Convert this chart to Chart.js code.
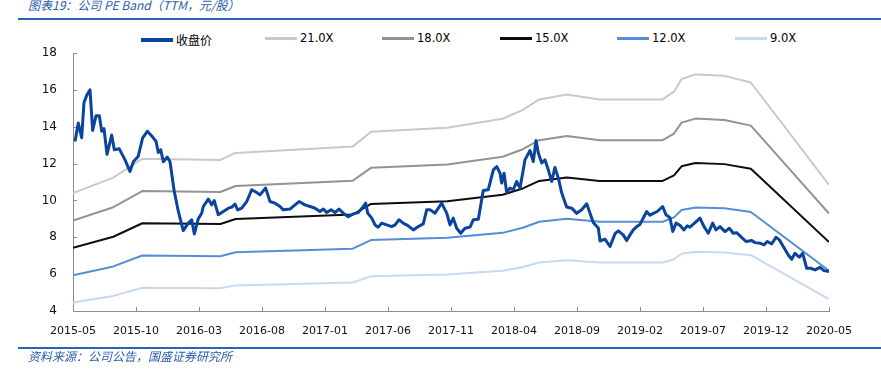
<!DOCTYPE html>
<html>
<head>
<meta charset="utf-8">
<script src="https://cdn.jsdelivr.net/npm/chart.js@4"></script>
<style>
    html, body { margin: 0; padding: 0; background: #fff; }
    #wrap { position: relative; width: 881px; height: 376px; overflow: hidden; }
    #peChart { position: absolute; left: 0; top: 0; }
    .title, .source {
        position: absolute; left: 28px; font-family: 'Noto Sans CJK SC', sans-serif;
        font-style: italic; font-size: 12px; color: #2a5caa; white-space: nowrap;
    }
    .title { top: -4px; }
    .source { top: 347px; }
    .rule { position: absolute; left: 18px; right: 0; height: 2px; background: #2a62b4; }
    .legend-item {
        position: absolute; top: 31px; display: flex; align-items: center;
        font-family: 'DejaVu Sans', sans-serif; font-size: 11.5px; color: #000; white-space: nowrap;
    }
    .legend-item .swatch { width: 32px; margin-right: 3px; }
    .legend-item .cjk { font-family: 'Noto Sans CJK SC', sans-serif; font-size: 12px; }
</style>
</head>
<body>
<div id="wrap">
    <div class="title">图表19：公司 PE Band（TTM，元/股）</div>
    <div class="rule" style="top:18px"></div>
    <div id="legend"></div>
    <canvas id="peChart" width="881" height="376"></canvas>
    <div class="rule" style="top:347px"></div>
    <div class="source">资料来源：公司公告，国盛证券研究所</div>
</div>
<script>
// 横轴刻度（每 5 个月一个）
const tickLabels = ['2015-05', '2015-10', '2016-03', '2016-08', '2017-01', '2017-06',
    '2017-11', '2018-04', '2018-09', '2019-02', '2019-07', '2019-12', '2020-05'];

// 收盘价：距 2015-05 的月数 / 价格
const closeMonths = [0.16, 0.42, 0.69, 0.87, 1.09, 1.35, 1.56, 1.83, 2.09, 2.28, 2.46, 2.70, 3.07, 3.28, 3.67,
    4.13, 4.52, 4.79, 5.18, 5.53, 5.90, 6.25, 6.59, 6.77, 6.96, 7.17, 7.48, 7.70, 8.02, 8.36, 8.75,
    9.15, 9.42, 9.63, 9.94, 10.21, 10.34, 10.74, 11.01, 11.21, 11.53, 11.93, 12.33, 12.60, 12.86,
    13.07, 13.39, 13.79, 14.18, 14.58, 14.84, 15.29, 15.63, 16.03, 16.43, 16.69, 17.22, 17.62,
    17.94, 18.41, 18.81, 19.21, 19.60, 19.87, 20.13, 20.48, 20.79, 21.11, 21.45, 21.85, 22.25,
    22.64, 23.04, 23.23, 23.39, 23.71, 23.97, 24.23, 24.50, 24.90, 25.29, 25.56, 25.87, 26.21,
    26.61, 27.01, 27.40, 27.80, 28.07, 28.33, 28.73, 29.26, 29.66, 29.92, 30.18, 30.45, 30.77,
    31.11, 31.51, 31.77, 32.17, 32.56, 32.96, 33.36, 33.63, 33.89, 34.02, 34.21, 34.42, 34.68,
    34.94, 35.21, 35.48, 35.87, 36.27, 36.53, 36.75, 36.93, 37.20, 37.46, 37.72, 37.99, 38.25,
    38.52, 38.79, 39.18, 39.58, 39.98, 40.37, 40.77, 41.29, 41.69, 41.83, 42.22, 42.62, 43.02,
    43.28, 43.67, 43.94, 44.21, 44.47, 44.74, 45.00, 45.53, 45.79, 46.06, 46.37, 46.80, 47.06,
    47.38, 47.60, 47.86, 48.17, 48.49, 48.75, 48.97, 49.37, 49.76, 50.08, 50.42, 50.77, 51.03,
    51.35, 51.75, 52.09, 52.40, 52.67, 52.94, 53.41, 53.87, 54.13, 54.52, 54.84, 55.10, 55.45,
    55.79, 56.06, 56.37, 56.77, 57.04, 57.30, 57.64, 57.91, 58.23, 58.55, 58.89, 59.29, 59.60, 60.00];
const closePrices = [13.2, 14.2, 13.4, 15.3, 15.7, 16.0, 13.8, 14.6, 14.6, 13.75, 13.9, 12.5, 13.55, 12.75, 12.8,
    12.2, 11.57, 12.1, 12.4, 13.4, 13.75, 13.5, 13.2, 12.6, 12.75, 12.1, 12.35, 12.1, 10.55, 9.4, 8.36,
    8.77, 8.95, 8.18, 9.0, 9.3, 9.67, 10.07, 9.76, 9.99, 9.22, 9.4, 9.58, 9.64, 9.8,
    9.49, 9.58, 9.94, 10.58, 10.43, 10.3, 10.67, 9.94, 9.85, 9.67, 9.49, 9.53, 9.76,
    9.94, 9.76, 9.67, 9.58, 9.4, 9.53, 9.34, 9.49, 9.34, 9.53, 9.31, 9.12, 9.27,
    9.34, 9.67, 9.85, 9.31, 9.04, 8.67, 8.55, 8.77, 8.67, 8.58, 8.67, 8.95, 8.77,
    8.62, 8.4, 8.58, 8.73, 9.49, 9.5, 9.31, 9.85, 9.31, 8.67, 9.04, 8.49, 8.22,
    8.49, 8.55, 8.95, 8.98, 10.54, 10.58, 11.66, 11.84, 11.48, 10.94, 11.48, 10.43, 10.67,
    10.58, 11.03, 10.67, 12.2, 12.71, 12.11, 13.25, 12.57, 12.03, 12.2, 11.66, 11.03, 11.79,
    11.21, 10.4, 9.64, 9.58, 9.3, 9.49, 9.82, 8.8, 8.5, 7.8, 7.9, 7.5, 8.2,
    8.35, 8.13, 7.82, 8.13, 8.4, 8.58, 8.7, 9.4, 9.2, 9.3, 9.4, 9.67, 9.22,
    9.06, 8.31, 8.77, 8.65, 8.4, 8.62, 8.55, 8.8, 9.04, 8.58, 8.22, 8.77, 8.4,
    8.58, 8.31, 8.49, 8.22, 8.25, 8.08, 7.77, 7.82, 7.71, 7.68, 7.59, 7.77, 7.64,
    8.0, 7.86, 7.5, 7.04, 6.81, 7.13, 6.92, 7.13, 6.32, 6.32, 6.23, 6.37, 6.19, 6.14];

// PE Band 拐点（月数）及各倍数对应价格
const bandMonths = [0, 3.2, 5.5, 11.7, 12.9, 22.2, 23.65, 29.7, 34.1, 35.7, 37.0, 39.2, 41.8, 46.8, 47.7, 48.3, 49.4, 51.7, 53.8, 60];
const pe21 = [10.40, 11.24, 12.26, 12.20, 12.58, 12.92, 13.73, 13.94, 14.43, 14.91, 15.48, 15.75, 15.48, 15.48, 15.90, 16.59, 16.84, 16.76, 16.40, 10.84];
const pe18 = [8.91, 9.63, 10.51, 10.46, 10.78, 11.07, 11.77, 11.95, 12.37, 12.78, 13.27, 13.50, 13.27, 13.27, 13.63, 14.22, 14.44, 14.36, 14.06, 9.29];
const pe15 = [7.43, 8.03, 8.76, 8.72, 8.99, 9.23, 9.81, 9.96, 10.31, 10.65, 11.06, 11.25, 11.06, 11.06, 11.36, 11.85, 12.03, 11.97, 11.72, 7.74];
const pe12 = [5.94, 6.42, 7.01, 6.97, 7.19, 7.38, 7.85, 7.97, 8.24, 8.52, 8.84, 9.00, 8.84, 8.84, 9.08, 9.48, 9.62, 9.58, 9.37, 6.19];
const pe9 = [4.46, 4.82, 5.26, 5.23, 5.39, 5.54, 5.89, 5.98, 6.18, 6.39, 6.63, 6.75, 6.63, 6.63, 6.81, 7.11, 7.22, 7.18, 7.03, 4.64];

const yTicks = [4, 6, 8, 10, 12, 14, 16, 18];

const toPoints = (xs, ys) => xs.map((m, i) => ({ x: m, y: ys[i] }));

const series = [
    { label: '收盘价', data: toPoints(closeMonths, closePrices), color: '#0b449c', width: 3 },
    { label: '21.0X', data: toPoints(bandMonths, pe21), color: '#c9c9c9', width: 2 },
    { label: '18.0X', data: toPoints(bandMonths, pe18), color: '#939393', width: 2 },
    { label: '15.0X', data: toPoints(bandMonths, pe15), color: '#0d0d0d', width: 2 },
    { label: '12.0X', data: toPoints(bandMonths, pe12), color: '#558ed5', width: 2 },
    { label: '9.0X', data: toPoints(bandMonths, pe9), color: '#c6d9f1', width: 2 }
];

// 图例（HTML）
const legendLeft = [141, 265, 382, 500, 617, 735];
const legendEl = document.getElementById('legend');
series.forEach((s, i) => {
    const item = document.createElement('div');
    item.className = 'legend-item';
    item.style.left = legendLeft[i] + 'px';
    const sw = document.createElement('span');
    sw.className = 'swatch';
    sw.style.height = (s.width + 1) + 'px';
    sw.style.background = s.color;
    const txt = document.createElement('span');
    txt.textContent = s.label;
    if (i === 0) txt.className = 'cjk';
    item.appendChild(sw);
    item.appendChild(txt);
    legendEl.appendChild(item);
});

// 坐标轴内侧小刻度
const innerTicks = {
    id: 'innerTicks',
    beforeDatasetsDraw(chart) {
        const { ctx, scales: { x, y } } = chart;
        ctx.save();
        ctx.strokeStyle = '#8c8c8c';
        ctx.lineWidth = 1;
        ctx.beginPath();
        x.ticks.forEach(t => {
            const px = Math.round(x.getPixelForValue(t.value)) + 0.5;
            ctx.moveTo(px, x.top);
            ctx.lineTo(px, x.top - 4);
        });
        y.ticks.forEach(t => {
            const py = Math.round(y.getPixelForValue(t.value)) + 0.5;
            ctx.moveTo(y.right, py);
            ctx.lineTo(y.right + 4, py);
        });
        ctx.stroke();
        ctx.restore();
    }
};

new Chart(document.getElementById('peChart'), {
    type: 'line',
    data: {
        datasets: series.map(s => ({
            label: s.label,
            data: s.data,
            borderColor: s.color,
            backgroundColor: s.color,
            borderWidth: s.width,
            pointRadius: 0,
            tension: 0,
            fill: false,
            borderJoinStyle: 'round'
        }))
    },
    options: {
        responsive: false,
        animation: false,
        devicePixelRatio: 1,
        layout: { padding: { left: 0, right: 52, top: 53, bottom: 0 } },
        plugins: {
            legend: { display: false },
            tooltip: { enabled: false }
        },
        scales: {
            x: {
                type: 'linear',
                min: 0,
                max: 60,
                afterFit: (scale) => { scale.height = 65; },
                afterBuildTicks: (scale) => {
                    scale.ticks = tickLabels.map((_, i) => ({ value: i * 5 }));
                },
                ticks: {
                    padding: 14,
                    color: '#111',
                    maxRotation: 0,
                    autoSkip: false,
                    font: { family: "'DejaVu Sans', sans-serif", size: 11 },
                    callback: (value) => tickLabels[Math.round(value / 5)]
                },
                grid: { drawOnChartArea: false, drawTicks: false },
                border: { display: true, color: '#8c8c8c', width: 1 }
            },
            y: {
                min: 4,
                max: 18,
                afterFit: (scale) => { scale.width = 73; },
                afterBuildTicks: (scale) => {
                    scale.ticks = yTicks.map(v => ({ value: v }));
                },
                ticks: {
                    padding: 16,
                    color: '#111',
                    font: { family: "'DejaVu Sans', sans-serif", size: 12 }
                },
                grid: { drawOnChartArea: false, drawTicks: false },
                border: { display: true, color: '#8c8c8c', width: 1 }
            }
        }
    },
    plugins: [innerTicks]
});
</script>
</body>
</html>
